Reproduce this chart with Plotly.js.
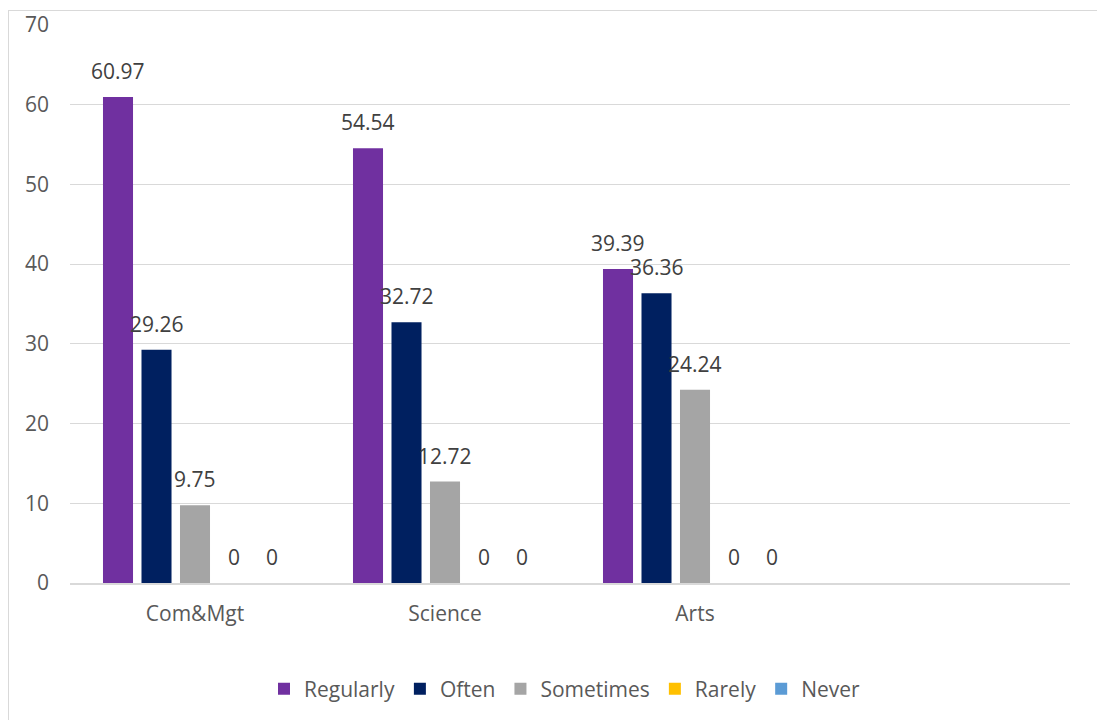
<!DOCTYPE html>
<html>
<head>
<meta charset="utf-8">
<script src="https://cdn.plot.ly/plotly-3.0.1.min.js"></script>
<style>
  html, body { margin: 0; padding: 0; overflow: hidden; background: #fff; width: 1097px; height: 720px; }
  #chart { position: absolute; left: 9px; top: -20px; width: 1100px; height: 760px; }
  #frame { position: absolute; left: 8px; top: 10px; width: 1100px; height: 720px; border: 1px solid #D9D9D9; box-sizing: border-box; pointer-events: none; z-index: 5; }
</style>
</head>
<body>
<div id="chart"></div>
<div id="frame"></div>
<script>
const categories = ['Com&Mgt', 'Science', 'Arts'];
const seriesNames = ['Regularly', 'Often', 'Sometimes', 'Rarely', 'Never'];
const regularly = [60.97, 54.54, 39.39];
const often = [29.26, 32.72, 36.36];
const sometimes = [9.75, 12.72, 24.24];
const rarely = [0, 0, 0];
const never = [0, 0, 0];
const yTicks = [0, 10, 20, 30, 40, 50, 60, 70];

const seriesValues = [regularly, often, sometimes, rarely, never];
const colors = ['#7030A0', '#002060', '#A5A5A5', '#FFC000', '#5B9BD5'];
const fontFam = '"Open Sans", Lato, "Liberation Sans", sans-serif';
const textColor = '#595959';
const fs = 21;

const bargap = 0.23;
const traces = seriesNames.map((name, j) => ({
  type: 'bar',
  name: name,
  x: categories,
  y: seriesValues[j],
  marker: { color: colors[j] },
  hoverinfo: 'none'
}));

const nSeries = seriesNames.length;
const slot = (1 - bargap) / nSeries;
const annotations = [];
seriesValues.forEach((vals, j) => {
  vals.forEach((v, i) => {
    annotations.push({
      x: i + (j - (nSeries - 1) / 2) * slot,
      y: v,
      xref: 'x', yref: 'y',
      text: String(v),
      showarrow: false,
      yanchor: 'middle',
      yshift: 26,
      font: { family: fontFam, size: fs, color: '#404040' }
    });
  });
});

const layout = {
  width: 1100,
  height: 760,
  margin: { l: 61, r: 39, t: 45, b: 157 },
  paper_bgcolor: 'rgba(0,0,0,0)',
  plot_bgcolor: 'rgba(0,0,0,0)',
  font: { family: fontFam, size: fs, color: textColor },
  barmode: 'group',
  bargap: bargap,
  bargroupgap: 0.22,
  showlegend: true,
  legend: {
    orientation: 'h',
    x: 0.495, xanchor: 'center',
    y: -0.19, yanchor: 'middle',
    font: { family: fontFam, size: fs, color: textColor },
    itemwidth: 30,
    traceorder: 'normal'
  },
  xaxis: {
    type: 'category',
    range: [-0.5, 3.5],
    showgrid: false,
    showline: true,
    linecolor: '#D9D9D9',
    linewidth: 1.5,
    ticks: '',
    ticklabelstandoff: 11,
    tickfont: { family: fontFam, size: fs, color: textColor },
    fixedrange: true
  },
  yaxis: {
    range: [0, 70],
    tickvals: yTicks,
    ticktext: yTicks.map(String),
    showgrid: true,
    gridcolor: '#D9D9D9',
    gridwidth: 1.2,
    zeroline: false,
    showline: false,
    ticks: '',
    ticklabelstandoff: 20,
    tickfont: { family: fontFam, size: fs, color: textColor },
    fixedrange: true
  },
  annotations: annotations
};

Plotly.newPlot('chart', traces, layout, { displayModeBar: false, staticPlot: true });
</script>
</body>
</html>
